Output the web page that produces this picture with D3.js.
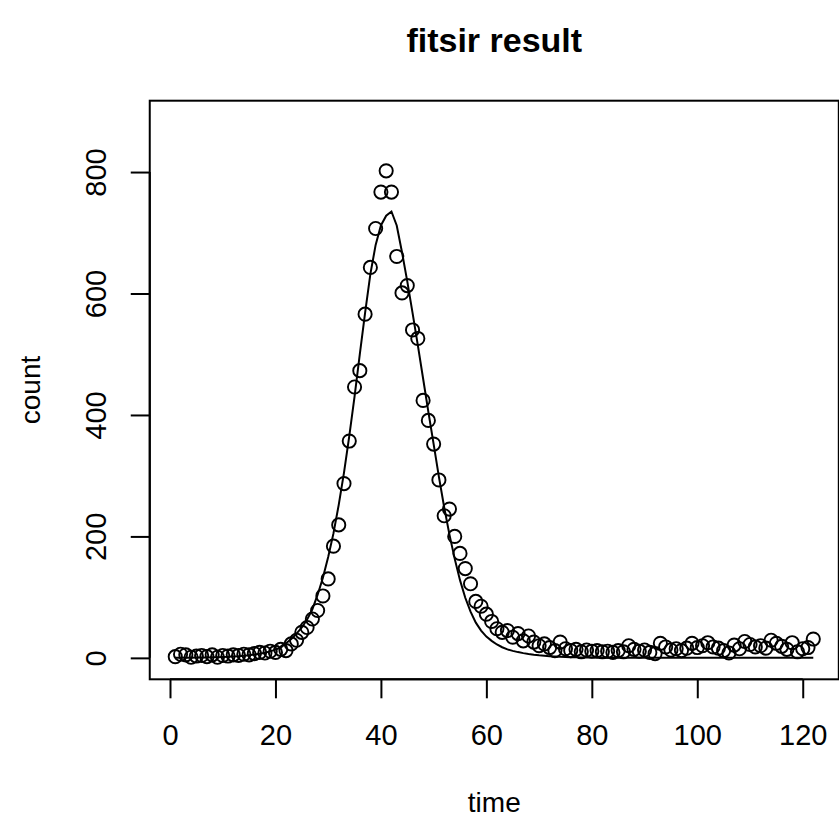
<!doctype html>
<html>
<head>
<script src="https://d3js.org/d3.v7.min.js"></script>
<style>
  body { margin: 0; background: #fff; }
  text { font-family: "Liberation Sans", Arial, sans-serif; fill: #000; }
</style>
</head>
<body>
<svg width="839" height="823"></svg>
<script>
// observed counts, day 1..122
var observed = [
  2, 6, 5, 1, 3, 4, 2, 5, 1, 4,
  3, 5, 4, 6, 5, 7, 9, 8, 11, 9,
  14, 12, 23, 29, 42, 50, 64, 78, 102, 130,
  184, 219, 287, 357, 446, 473, 566, 643, 707, 767,
  802, 767, 661, 601, 613, 540, 526, 424, 391, 352,
  293, 234, 245, 200, 172, 147, 122, 93, 85, 72,
  60, 48, 42, 45, 34, 40, 28, 36, 26, 20,
  23, 17, 12, 26, 15, 12, 14, 10, 13, 11,
  12, 10, 11, 9, 12, 10, 20, 14, 11, 13,
  9, 7, 24, 18, 13, 15, 12, 16, 24, 17,
  20, 25, 18, 16, 12, 8, 21, 15, 27, 22,
  18, 20, 16, 29, 24, 19, 14, 25, 10, 15,
  17, 31
];

// fitted SIR curve, day 1..122
var fitted = [
  0.2, 0.25, 0.3, 0.4, 0.5, 0.6, 0.7, 0.9, 1.1, 1.4,
  1.7, 2.2, 2.7, 3.4, 4.3, 5.4, 6.8, 8.5, 10.7, 13.5,
  17, 24, 31, 40, 50, 63, 80, 104, 132, 166,
  205, 252, 305, 365, 430, 500, 568, 632, 680, 712,
  728, 735, 712, 668, 620, 568, 515, 460, 405, 352,
  298, 248, 203, 163, 128, 99, 76, 58, 45, 35,
  28, 22, 17.5, 14, 11.5, 9.5, 7.8, 6.4, 5.2, 4.2,
  3.4, 2.7, 2.2, 1.8, 1.4, 1.1, 0.9, 0.7, 0.6, 0.5,
  0.4, 0.35, 0.3, 0.25, 0.2, 0.2, 0.15, 0.15, 0.1, 0.1,
  0.1, 0.1, 0.1, 0.1, 0.05, 0.05, 0.05, 0.05, 0.05, 0.05,
  0.05, 0.05, 0.05, 0.05, 0.05, 0.05, 0.05, 0.05, 0.05, 0.05,
  0.05, 0.05, 0.05, 0.05, 0.05, 0.05, 0.05, 0.05, 0.05, 0.05,
  0.05, 0.05
];

var xTicks = [0, 20, 40, 60, 80, 100, 120];
var yTicks = [0, 200, 400, 600, 800];

var days = observed.map(function (d, i) { return i + 1; });

var svg = d3.select("svg");
var plotLeft = 149.75, plotRight = 838.8, plotTop = 100.7, plotBottom = 679.3;

// R style axis limits: 4% padding, ylim = c(0, 1.1 * max)
var xMin = d3.min(days), xMax = d3.max(days);
var xPad = (xMax - xMin) * 0.04;
var yMax = d3.max(observed) * 1.1;
var yPad = yMax * 0.04;

var xScale = d3.scaleLinear().domain([xMin - xPad, xMax + xPad]).range([plotLeft, plotRight]);
var yScale = d3.scaleLinear().domain([-yPad, yMax + yPad]).range([plotBottom, plotTop]);

// box
svg.append("rect")
  .attr("x", plotLeft).attr("y", plotTop)
  .attr("width", plotRight - plotLeft).attr("height", plotBottom - plotTop)
  .style("fill", "none").style("stroke", "#000").style("stroke-width", 2);

// x axis
var xAxis = svg.append("g")
  .attr("transform", "translate(0," + plotBottom + ")")
  .call(d3.axisBottom(xScale).tickValues(xTicks).tickSize(19).tickPadding(26));
xAxis.select(".domain")
  .attr("d", "M" + xScale(xTicks[0]) + ",0H" + xScale(xTicks[xTicks.length - 1]));
xAxis.selectAll("line, path").style("stroke", "#000").style("stroke-width", 2);
xAxis.selectAll("text").style("font-size", "29px").style("font-family", "Liberation Sans, Arial, sans-serif");

// y axis, labels turned like R's las = 0
var yAxis = svg.append("g")
  .attr("transform", "translate(" + plotLeft + ",0)")
  .call(d3.axisLeft(yScale).tickValues(yTicks).tickSize(19).tickPadding(0));
yAxis.select(".domain")
  .attr("d", "M0," + yScale(yTicks[0]) + "V" + yScale(yTicks[yTicks.length - 1]));
yAxis.selectAll("line, path").style("stroke", "#000").style("stroke-width", 2);
yAxis.selectAll("text")
  .attr("x", null).attr("dy", null)
  .attr("text-anchor", "middle")
  .attr("transform", "translate(-44,0) rotate(-90)")
  .style("font-size", "29px").style("font-family", "Liberation Sans, Arial, sans-serif");

// fitted line
var line = d3.line()
  .x(function (d, i) { return xScale(days[i]); })
  .y(function (d) { return yScale(d); });

svg.append("path")
  .datum(fitted)
  .attr("d", line)
  .style("fill", "none")
  .style("stroke", "#000")
  .style("stroke-width", 2);

// observed points
svg.append("g")
  .selectAll("circle")
  .data(observed)
  .enter()
  .append("circle")
  .attr("cx", function (d, i) { return xScale(days[i]); })
  .attr("cy", function (d) { return yScale(d); })
  .attr("r", 6.6)
  .style("fill", "none")
  .style("stroke", "#000")
  .style("stroke-width", 1.9);

// titles
svg.append("text")
  .attr("x", (plotLeft + plotRight) / 2).attr("y", 52)
  .attr("text-anchor", "middle")
  .style("font-size", "34px").style("font-weight", "bold")
  .text("fitsir result");

svg.append("text")
  .attr("x", (plotLeft + plotRight) / 2).attr("y", 812)
  .attr("text-anchor", "middle")
  .style("font-size", "28px")
  .text("time");

svg.append("text")
  .attr("text-anchor", "middle")
  .attr("transform", "translate(40," + (plotTop + plotBottom) / 2 + ") rotate(-90)")
  .style("font-size", "28px")
  .text("count");
</script>
</body>
</html>
